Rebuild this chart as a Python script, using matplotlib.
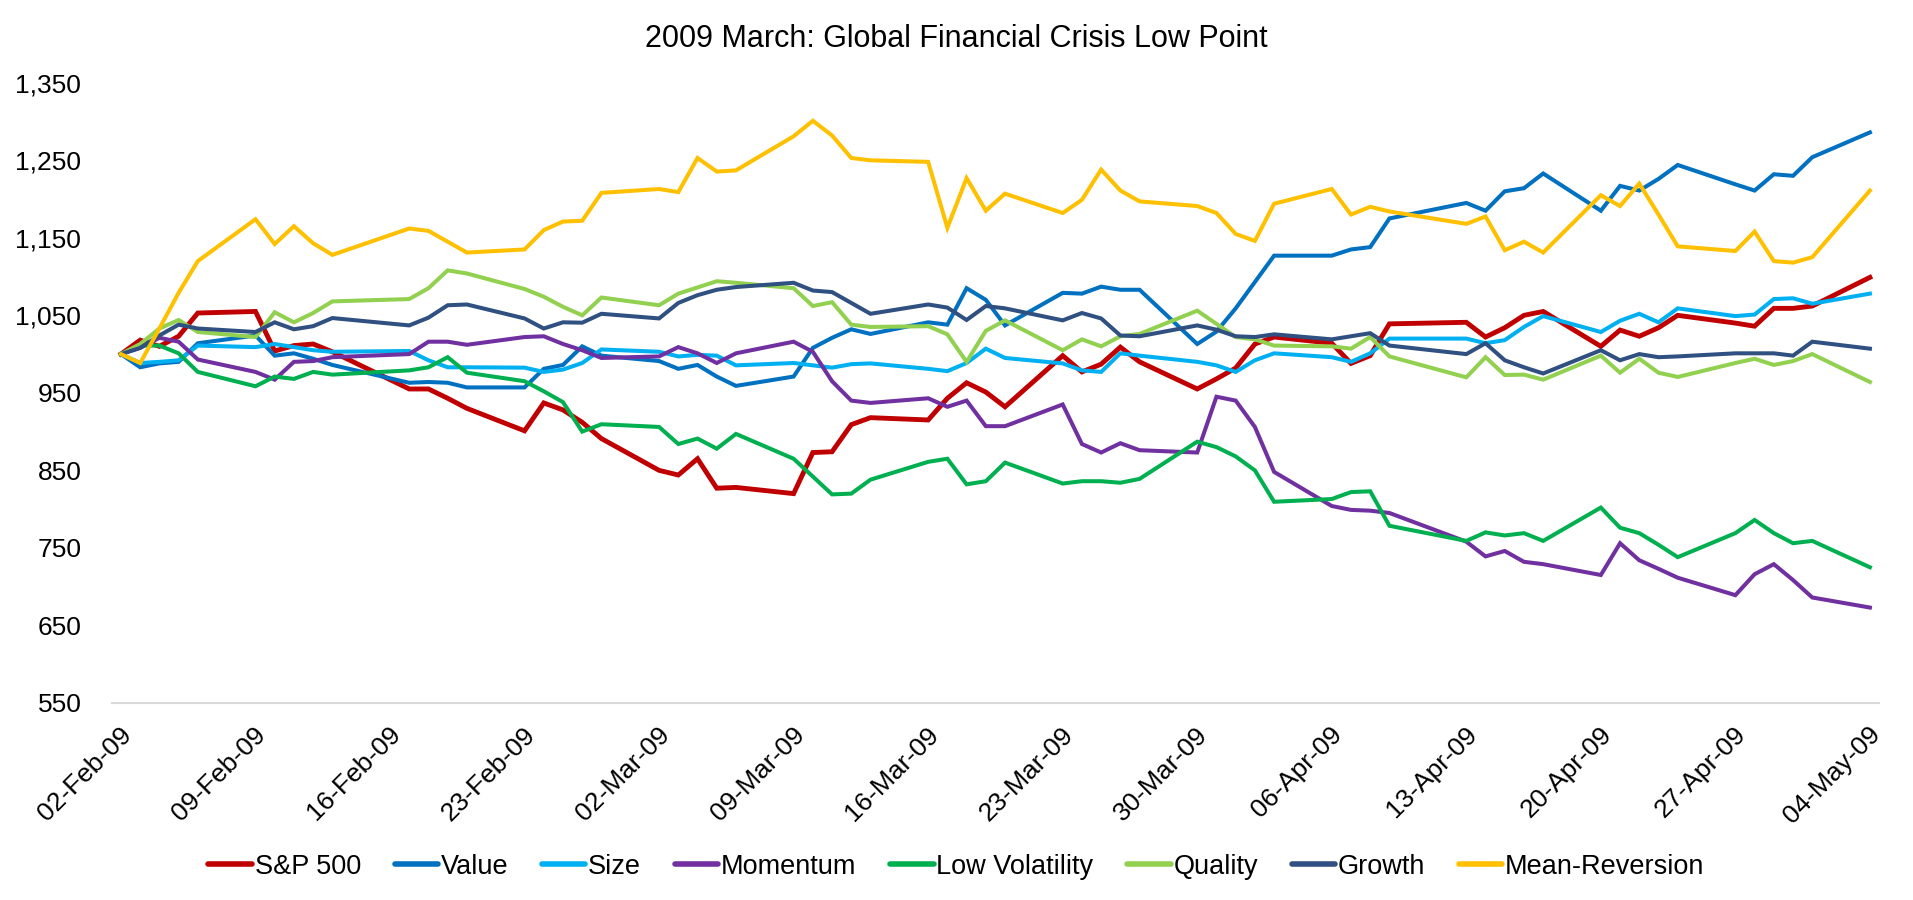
import numpy as np
import pandas as pd
import matplotlib
matplotlib.use("Agg")
import matplotlib.pyplot as plt
import matplotlib.dates as mdates
import matplotlib.transforms as mtransforms
from matplotlib.ticker import FuncFormatter

plt.rcParams["font.family"] = ["Liberation Sans", "DejaVu Sans"]

# trading days, 02-Feb-09 .. 04-May-09
dates = pd.to_datetime([
    "2009-02-02", "2009-02-03", "2009-02-04", "2009-02-05", "2009-02-06",
    "2009-02-09", "2009-02-10", "2009-02-11", "2009-02-12", "2009-02-13",
    "2009-02-17", "2009-02-18", "2009-02-19", "2009-02-20",
    "2009-02-23", "2009-02-24", "2009-02-25", "2009-02-26", "2009-02-27",
    "2009-03-02", "2009-03-03", "2009-03-04", "2009-03-05", "2009-03-06",
    "2009-03-09", "2009-03-10", "2009-03-11", "2009-03-12", "2009-03-13",
    "2009-03-16", "2009-03-17", "2009-03-18", "2009-03-19", "2009-03-20",
    "2009-03-23", "2009-03-24", "2009-03-25", "2009-03-26", "2009-03-27",
    "2009-03-30", "2009-03-31", "2009-04-01", "2009-04-02", "2009-04-03",
    "2009-04-06", "2009-04-07", "2009-04-08", "2009-04-09",
    "2009-04-13", "2009-04-14", "2009-04-15", "2009-04-16", "2009-04-17",
    "2009-04-20", "2009-04-21", "2009-04-22", "2009-04-23", "2009-04-24",
    "2009-04-27", "2009-04-28", "2009-04-29", "2009-04-30", "2009-05-01",
    "2009-05-04",
])

sp500 = [1000, 1018, 1010, 1023, 1053, 1055, 1004, 1011, 1013, 1003,
         955, 955, 943, 930, 901, 937, 928, 912, 891,
         850, 844, 865, 827, 828, 820, 873, 874, 909, 918,
         915, 943, 963, 951, 932, 998, 977, 987, 1009, 990,
         955, 968, 982, 1013, 1022, 1014, 988, 998, 1039,
         1041, 1022, 1034, 1050, 1055, 1010, 1031, 1023, 1034, 1050,
         1040, 1036, 1059, 1059, 1062, 1099]
value = [1000, 983, 988, 990, 1014, 1024, 998, 1001, 994, 986,
         963, 964, 963, 957, 957, 981, 986, 1010, 998,
         991, 981, 986, 971, 959, 971, 1008, 1021, 1032, 1026,
         1041, 1038, 1085, 1070, 1037, 1079, 1078, 1087, 1083, 1083,
         1013, 1029, 1059, 1093, 1127, 1127, 1135, 1138, 1175,
         1195, 1185, 1210, 1214, 1233, 1185, 1217, 1211, 1226, 1244,
         1219, 1211, 1232, 1230, 1254, 1286]
size = [1000, 988.5, 990, 992, 1011, 1009, 1013, 1009, 1005, 1003,
        1004, 992, 983, 983, 982.5, 977, 980, 988.5, 1006,
        1003, 997, 999, 998, 985.5, 988.5, 985.5, 982.5, 987, 988,
        981, 978, 988.5, 1007, 995, 988, 979, 977, 1001, 998,
        990, 985.5, 977, 992, 1001, 996, 990, 1001, 1020,
        1020, 1014, 1018, 1035, 1049, 1028.5, 1043, 1052, 1041, 1059,
        1049, 1051, 1071, 1072, 1065, 1078]
momentum = [1000, 1008, 1021, 1016, 993, 977, 967, 990, 991, 996,
            1000, 1016, 1016, 1012, 1022, 1023, 1013, 1005, 995,
            997, 1009, 1001, 988.5, 1001, 1016, 1003, 965, 940, 937,
            943, 932, 940, 907, 907, 935, 884, 873, 885, 876,
            873, 945, 940, 906, 848, 804, 799, 798, 795,
            758, 739, 746, 732, 729, 715, 756, 734, 723, 711.5,
            689, 716, 729, 708.5, 686, 673]
low_vol = [1000, 1011, 1011, 1001, 977, 958.5, 971, 968, 977, 973.5,
           979, 983, 996, 976, 965, 952, 938, 900, 909.5,
           906, 884, 891, 878, 897, 865, 842, 819, 820, 838,
           861, 865, 832, 836, 860, 833, 836, 836, 834, 839,
           887, 880, 868, 850, 809.5, 813, 822, 823, 778.5,
           759, 770, 766, 769, 759, 802, 776, 769, 754, 738,
           769, 786, 769, 756, 759, 725]
quality = [1000, 1013, 1033, 1044, 1028.5, 1022, 1054, 1041, 1053, 1068,
           1071, 1085, 1108, 1104, 1084, 1074, 1061, 1050, 1073,
           1063, 1078, 1086, 1094, 1092, 1085, 1062, 1067, 1038, 1035,
           1036, 1025.5, 990, 1030, 1043.5, 1005, 1019, 1010, 1023, 1026,
           1056, 1039, 1022, 1019, 1011, 1010, 1007, 1022, 997,
           970, 996, 973, 973.5, 967, 998, 976, 994, 976, 970.5,
           988.5, 994, 986, 991, 1000, 964]
growth = [1000, 1008, 1024, 1038, 1033, 1028.5, 1041, 1032, 1036, 1046.5,
          1037, 1047, 1063, 1064, 1046, 1033, 1041, 1040.5, 1052,
          1046, 1066, 1076, 1083, 1086.5, 1092, 1082, 1080, 1066, 1052,
          1064, 1060, 1044, 1062, 1059, 1043.5, 1053, 1046, 1024, 1023,
          1037, 1031.5, 1023, 1022, 1025.5, 1019, 1023, 1027, 1011,
          1000, 1014, 992, 983, 975, 1005, 992, 1000, 996, 997,
          1001, 1001, 1001, 998, 1016, 1007]
mean_rev = [1000, 988.5, 1033, 1079, 1120, 1174, 1142, 1165, 1143, 1128,
            1162, 1159, 1145, 1131, 1135, 1160, 1171, 1172, 1208,
            1213, 1209, 1253, 1235.5, 1237, 1281, 1301, 1282, 1253, 1250,
            1248, 1163, 1227, 1185, 1207, 1182, 1199, 1238, 1211, 1197,
            1191, 1182, 1155, 1146, 1194, 1213, 1180, 1190, 1184,
            1168, 1177.5, 1134, 1145, 1131, 1205, 1191, 1220, 1180, 1139,
            1133, 1158, 1120, 1118, 1125, 1211]

series = [
    ("S&P 500", sp500, "#C00000", 3.5),
    ("Value", value, "#0070C0", 2.9),
    ("Size", size, "#00B0F0", 2.9),
    ("Momentum", momentum, "#7030A0", 2.9),
    ("Low Volatility", low_vol, "#00B050", 2.9),
    ("Quality", quality, "#92D050", 2.9),
    ("Growth", growth, "#2F5080", 2.9),
    ("Mean-Reversion", mean_rev, "#FFC000", 2.9),
]

fig = plt.figure(figsize=(19.13, 9), dpi=100)
ax = fig.add_axes([0.0585, 0.219, 0.9237, 0.689])

for name, vals, col, lw in series:
    ax.plot(dates, vals, color=col, lw=lw, label=name, solid_joinstyle="miter")

# axes styling (Excel look)
x0 = mdates.date2num(dates[0]) - 0.47
x1 = mdates.date2num(dates[-1]) + 0.47
ax.set_xlim(x0, x1)
ax.set_ylim(550, 1350)
ax.set_yticks(np.arange(550, 1351, 100))
ax.yaxis.set_major_formatter(FuncFormatter(lambda v, p: f"{v:,.0f}"))
ax.set_xticks(pd.date_range("2009-02-02", "2009-05-04", freq="7D"))
ax.xaxis.set_major_formatter(mdates.DateFormatter("%d-%b-%y"))

for s in ["top", "right", "left"]:
    ax.spines[s].set_visible(False)
ax.spines["bottom"].set_color("#D9D9D9")
ax.spines["bottom"].set_linewidth(1.5)
ax.tick_params(axis="both", length=0, labelsize=19)
ax.tick_params(axis="y", pad=22)
ax.tick_params(axis="x", pad=20)

# rotated date labels, nudged right so they end just past the tick
shift = mtransforms.ScaledTranslation(5 / 72, 0, fig.dpi_scale_trans)
for tick in ax.xaxis.get_major_ticks():
    lab = tick.label1
    lab.set_rotation(45)
    lab.set_ha("right")
    lab.set_va("center")
    lab.set_rotation_mode("anchor")
    lab.set_transform(lab.get_transform() + shift)

fig.text(0.5, 0.957, "2009 March: Global Financial Crisis Low Point",
         fontsize=22, ha="center", va="center")

leg = fig.legend(loc="center", bbox_to_anchor=(0.5, 0.037), ncol=8, frameon=False,
                 fontsize=19.5, handlelength=1.6, handletextpad=0.1, columnspacing=1.25)
for line in leg.get_lines():
    line.set_linewidth(4)
    line.set_solid_capstyle("round")

fig.savefig("out.png", dpi=100)
plt.close(fig)
